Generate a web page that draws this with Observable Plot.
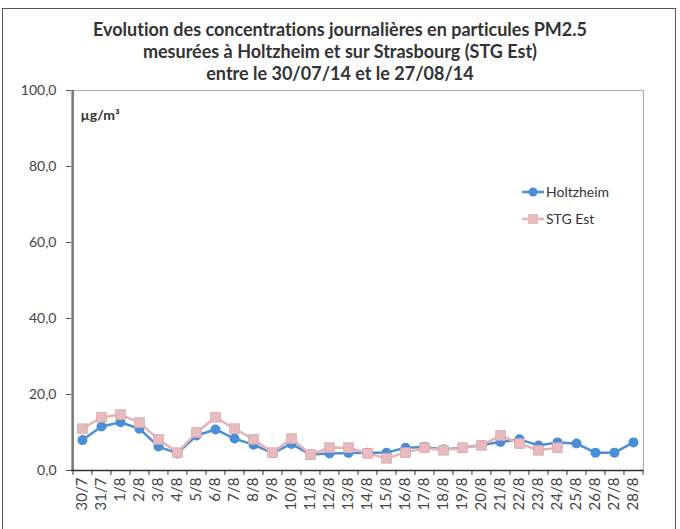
<!DOCTYPE html>
<html><head><meta charset="utf-8">
<script src="https://cdn.jsdelivr.net/npm/d3@7"></script>
<script src="https://cdn.jsdelivr.net/npm/@observablehq/plot@0.6"></script>
<style>
html,body{margin:0;padding:0;background:#fff;}
#wrap{position:relative;width:680px;height:529px;overflow:hidden;font-family:Lato,"Open Sans",sans-serif;font-variant-ligatures:none;}
#frame{position:absolute;left:2px;top:8px;width:674px;height:540px;border:1.5px solid #555;box-sizing:border-box;}
#title{position:absolute;left:0;top:18px;width:680px;text-align:center;font-weight:bold;font-size:18px;line-height:22px;color:#333;}
#legend{position:absolute;left:522px;top:178px;font-size:14px;color:#333;line-height:27px;}
#legend div{display:flex;align-items:center;}
#legend svg{margin-right:2px;}
#chart{position:absolute;left:0;top:0;}
</style></head>
<body><div id="wrap">
<div id="frame"></div>
<div id="title">Evolution des concentrations journalières en particules PM2.5<br>mesurées à Holtzheim et sur Strasbourg (STG Est)<br>entre le 30/07/14 et le 27/08/14</div>
<div id="chart"></div>
<div id="legend">
<div><svg width="22" height="12"><line x1="0" x2="22" y1="6" y2="6" stroke="#4a8fd6" stroke-width="2.5"/><circle cx="11" cy="6" r="4.5" fill="#4a8fd6"/></svg>Holtzheim</div>
<div><svg width="22" height="12"><line x1="0" x2="22" y1="6" y2="6" stroke="#e3b3b6" stroke-width="2.5"/><rect x="6" y="1" width="10" height="10" fill="#e8bcbf"/></svg>STG Est</div>
</div>
</div>
<script>
const dates = ["30/7","31/7","1/8","2/8","3/8","4/8","5/8","6/8","7/8","8/8","9/8","10/8","11/8","12/8","13/8","14/8","15/8","16/8","17/8","18/8","19/8","20/8","21/8","22/8","23/8","24/8","25/8","26/8","27/8","28/8"];
const holtzheim = [8.0,11.6,12.7,11.0,6.3,4.5,9.2,10.8,8.4,6.8,4.6,7.0,4.2,4.5,4.6,4.7,4.7,6.0,6.2,5.5,6.0,6.7,7.5,8.2,6.6,7.4,7.1,4.7,4.7,7.4];
const stgEst = [11.0,14.0,14.7,12.6,8.2,4.7,10.0,14.0,11.0,8.2,4.7,8.4,4.2,6.0,6.0,4.5,3.2,4.7,6.0,5.3,6.0,6.6,9.2,7.1,5.3,6.0,null,null,null,null];
const yTicks = [0,20,40,60,80,100];
const unitLabel = "µg/m³";

const rowsH = dates.map((d,i)=>({date:d, v:holtzheim[i]}));
const rowsS = dates.map((d,i)=>({date:d, v:stgEst[i]})).filter(r=>r.v!=null);

const W=680,H=529,ML=71,MR=37,MT=90,MB=59;
const step=(W-ML-MR)/dates.length;
const font = "Lato, 'Open Sans', sans-serif";

const chart = Plot.plot({
  width:W,height:H,marginLeft:ML,marginRight:MR,marginTop:MT,marginBottom:MB,
  style:{fontFamily:font,fontSize:"14px",color:"#444",background:"transparent"},
  x:{type:"point",domain:dates,padding:0.5},
  y:{domain:[0,100]},
  marks:[
    Plot.frame({stroke:"#aaa",strokeWidth:1}),
    Plot.ruleY([0],{stroke:"#333",strokeWidth:1.5}),
    Plot.ruleX([dates[0]],{dx:-step/2,stroke:"#555",strokeWidth:1.5}),
    Plot.ruleX(dates,{x:d=>d,dx:-step/2,y1:0,y2:-1.3,stroke:"#333"}),
    Plot.ruleX([dates[dates.length-1]],{dx:step/2,y1:0,y2:-1.3,stroke:"#333"}),
    Plot.axisY({ticks:yTicks,tickFormat:d=>d.toFixed(1).replace(".",","),tickSize:5,tickPadding:10,fontSize:14,stroke:"#555",label:null}),
    Plot.axisX({tickRotate:-90,tickSize:0,tickPadding:7,fontSize:15,label:null}),
    Plot.line(rowsH,{x:"date",y:"v",stroke:"#4a8fd6",strokeWidth:2.5}),
    Plot.dot(rowsH,{x:"date",y:"v",r:5,fill:"#4a8fd6",stroke:"none"}),
    Plot.line(rowsS,{x:"date",y:"v",stroke:"#e3b3b6",strokeWidth:2.5}),
    Plot.dot(rowsS,{x:"date",y:"v",symbol:"square",r:5.5,fill:"#e8bcbf",stroke:"#dba6aa",strokeWidth:0.8}),
    Plot.text([unitLabel],{frameAnchor:"top-left",dx:9,dy:20,fontWeight:"bold",fontSize:14,fill:"#333",textAnchor:"start"})
  ]
});
document.getElementById("chart").appendChild(chart);
</script>
</body></html>
